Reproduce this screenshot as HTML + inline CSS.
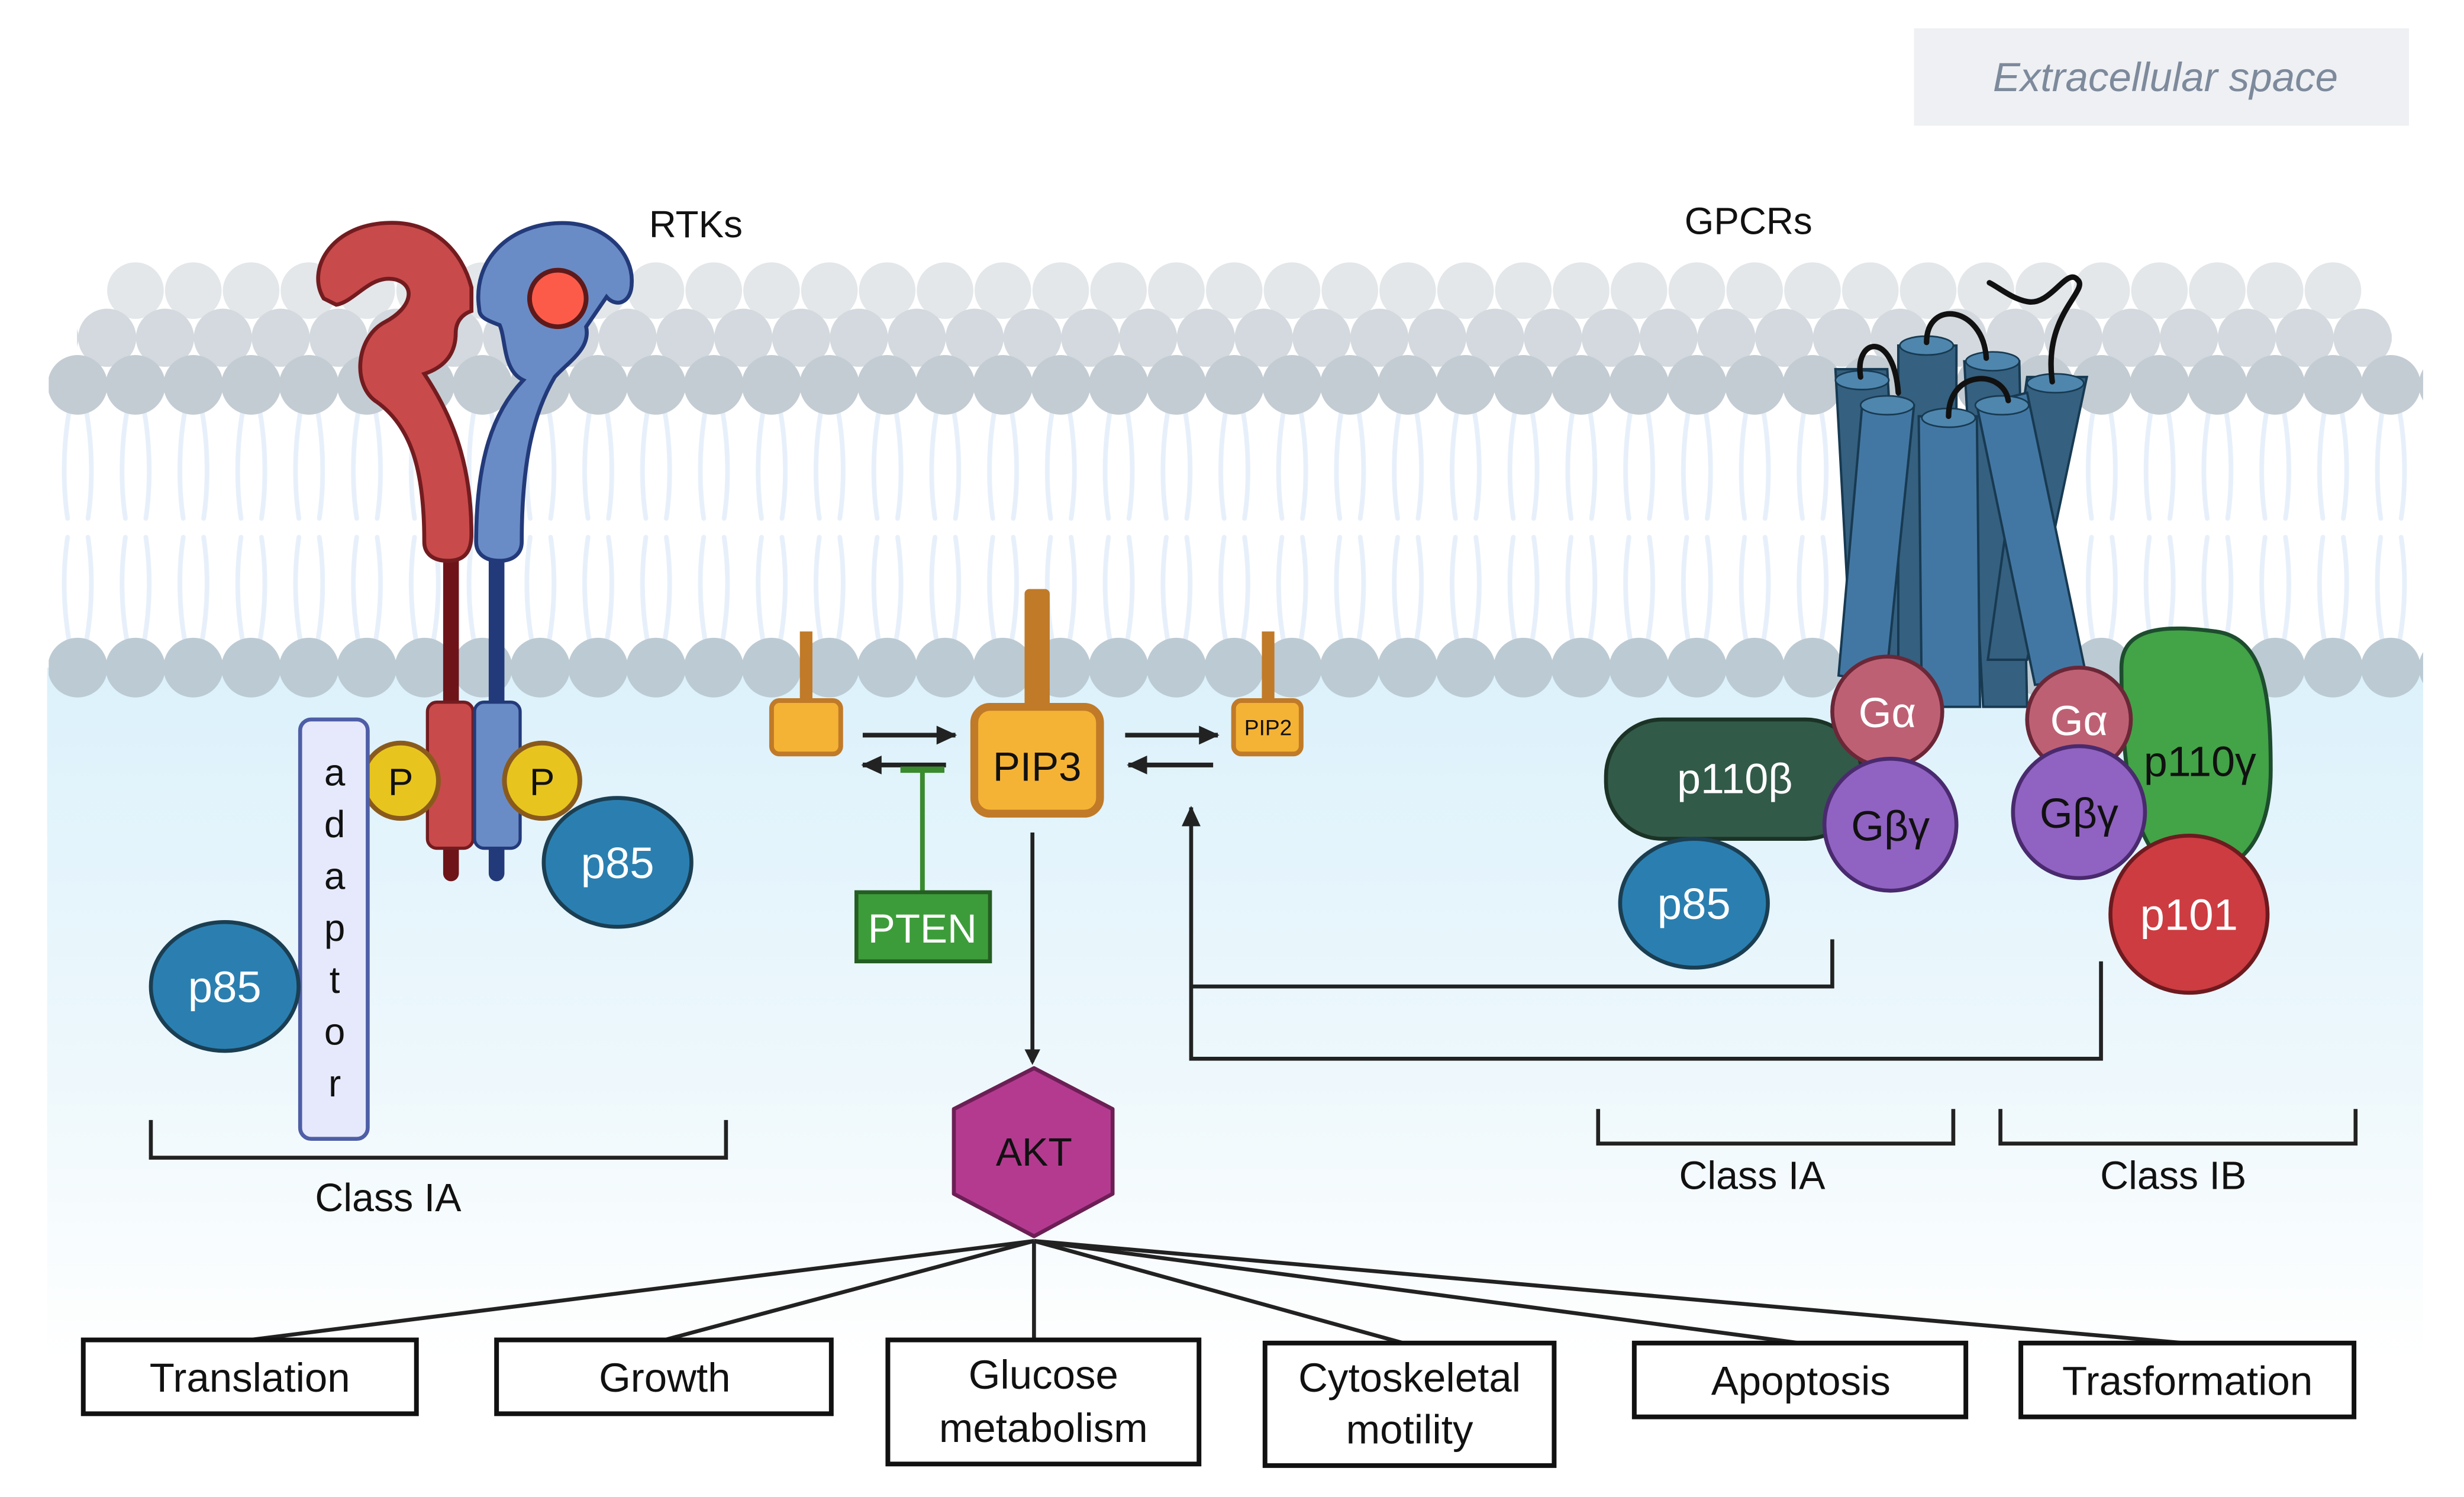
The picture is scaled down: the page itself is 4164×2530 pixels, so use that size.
<!DOCTYPE html>
<html><head><meta charset="utf-8"><style>
html,body{margin:0;padding:0;background:#fff;}
svg{display:block;}
text{font-family:"Liberation Sans",Arial,sans-serif;}
</style></head><body>
<svg width="4164" height="2530" viewBox="0 0 1568 953" preserveAspectRatio="none" xmlns="http://www.w3.org/2000/svg">
<defs>
<linearGradient id="cyto" x1="0" y1="0" x2="0" y2="1">
<stop offset="0" stop-color="#dcf1fb"/><stop offset="0.6" stop-color="#eef8fc"/><stop offset="1" stop-color="#ffffff"/>
</linearGradient>
<pattern id="h1" x="31" y="0" width="36.8" height="953" patternUnits="userSpaceOnUse"><circle cx="18.4" cy="185" r="18" fill="#e3e7ea"/></pattern>
<pattern id="h2" x="13" y="0" width="36.8" height="953" patternUnits="userSpaceOnUse"><circle cx="18.4" cy="215" r="18.5" fill="#d3d9de"/></pattern>
<pattern id="h3" x="31" y="0" width="36.8" height="953" patternUnits="userSpaceOnUse"><circle cx="18.4" cy="245" r="19" fill="#c3ccd3"/></pattern>
<pattern id="h4" x="31" y="0" width="36.8" height="953" patternUnits="userSpaceOnUse"><circle cx="18.4" cy="425" r="19" fill="#bccad3"/></pattern>
<pattern id="tl" x="31" y="0" width="36.8" height="953" patternUnits="userSpaceOnUse">
<path d="M13,262 C9,285 9,310 12,330 M24,262 C28,285 28,310 25,330 M12,342 C9,362 9,385 13,408 M25,342 C28,362 28,385 24,408" stroke="#e7f0fa" stroke-width="3" fill="none" stroke-linecap="round"/>
</pattern>
<marker id="ar" markerWidth="10" markerHeight="10" refX="8" refY="5" orient="auto" markerUnits="userSpaceOnUse"><path d="M0,0 L10,5 L0,10 Z" fill="#222"/></marker>
<marker id="ar2" markerWidth="14" markerHeight="14" refX="12" refY="7" orient="auto" markerUnits="userSpaceOnUse"><path d="M0,1 L13,7 L0,13 Z" fill="#222"/></marker>
</defs>
<rect x="30" y="425" width="1512" height="440" fill="url(#cyto)"/>
<rect x="68" y="160" width="1435" height="50" fill="url(#h1)"/>
<rect x="49" y="190" width="1473" height="50" fill="url(#h2)"/>
<rect x="31" y="260" width="1510" height="150" fill="url(#tl)"/>
<rect x="31" y="225" width="1511" height="40" fill="url(#h3)"/>
<rect x="31" y="405" width="1511" height="40" fill="url(#h4)"/>

<rect x="1218" y="18" width="315" height="62" fill="#eef0f3"/>
<text x="1378" y="58" font-size="26" font-style="italic" fill="#7d8a9c" text-anchor="middle">Extracellular space</text>
<text x="413" y="151" font-size="24" fill="#111">RTKs</text>
<text x="1072" y="149" font-size="24" fill="#111">GPCRs</text>

<line x1="287" y1="355" x2="287" y2="556" stroke="#6e1419" stroke-width="10" stroke-linecap="round"/>
<line x1="316" y1="355" x2="316" y2="556" stroke="#233a7a" stroke-width="10" stroke-linecap="round"/>
<path d="M206,190 C195,172 210,144 245,142 C276,140 294,160 300,183 L300,198 C294,200 290,205 290,212 C290,226 282,234 270,238 C286,262 300,292 300,340 C300,352 295,357 285,357 C275,357 270,352 270,345 C270,300 262,272 240,256 C224,246 226,215 245,205 C262,196 265,182 252,178 C236,174 226,192 214,194 Z" fill="#c94a4b" stroke="#731c20" stroke-width="2.5"/>
<path d="M305,197 C300,165 325,142 358,142 C386,142 403,162 402,180 C402,193 392,196 386,189 L373,208 C376,222 362,230 353,240 C340,262 332,292 332,345 C332,352 327,357 318,357 C308,357 303,352 303,345 C303,292 314,262 333,242 C320,236 322,216 318,207 C310,204 305,202 305,197 Z" fill="#6a8cc6" stroke="#233a7a" stroke-width="2.5"/>
<circle cx="355" cy="190" r="18" fill="#fd5b4a" stroke="#5e1a1a" stroke-width="3"/>
<rect x="272" y="447" width="29" height="93" rx="6" fill="#c94a4b" stroke="#731c20" stroke-width="2"/>
<rect x="302" y="447" width="29" height="93" rx="6" fill="#6a8cc6" stroke="#233a7a" stroke-width="2"/>
<circle cx="255" cy="497" r="24" fill="#e8c51e" stroke="#8a5a1c" stroke-width="3"/>
<text x="255" y="506" font-size="24" text-anchor="middle" fill="#111">P</text>
<circle cx="345" cy="497" r="24" fill="#e8c51e" stroke="#8a5a1c" stroke-width="3"/>
<text x="345" y="506" font-size="24" text-anchor="middle" fill="#111">P</text>
<ellipse cx="393" cy="549" rx="47" ry="41" fill="#2a7fb0" stroke="#1b3e52" stroke-width="2.5"/>
<text x="393" y="559" font-size="28" text-anchor="middle" fill="#fff">p85</text>
<rect x="191" y="458" width="43" height="267" rx="7" fill="#e6e9fb" stroke="#4e5ea6" stroke-width="2.5"/>
<g font-size="24" text-anchor="middle" fill="#111">
<text x="213" y="500">a</text><text x="213" y="533">d</text><text x="213" y="566">a</text><text x="213" y="599">p</text><text x="213" y="632">t</text><text x="213" y="665">o</text><text x="213" y="698">r</text>
</g>
<ellipse cx="143" cy="628" rx="47" ry="41" fill="#2a7fb0" stroke="#1b3e52" stroke-width="2.5"/>
<text x="143" y="638" font-size="28" text-anchor="middle" fill="#fff">p85</text>
<path d="M96,713 V737 H462 V713" fill="none" stroke="#222" stroke-width="2.5"/>
<text x="247" y="771" font-size="25" text-anchor="middle" fill="#111">Class IA</text>

<rect x="509" y="402" width="8" height="48" fill="#c07a28"/>
<rect x="491" y="446" width="44" height="34" rx="5" fill="#f5b335" stroke="#c07a28" stroke-width="3"/>
<rect x="652" y="375" width="16" height="80" rx="3" fill="#c07a28"/>
<rect x="620" y="450" width="80" height="68" rx="10" fill="#f5b335" stroke="#c07a28" stroke-width="5"/>
<text x="660" y="497" font-size="26" text-anchor="middle" fill="#111">PIP3</text>
<rect x="803" y="402" width="8" height="48" fill="#c07a28"/>
<rect x="785" y="446" width="43" height="34" rx="5" fill="#f5b335" stroke="#c07a28" stroke-width="3"/>
<text x="807" y="468" font-size="14" text-anchor="middle" fill="#111">PIP2</text>
<line x1="549" y1="468" x2="608" y2="468" stroke="#222" stroke-width="3" marker-end="url(#ar2)"/>
<line x1="602" y1="487" x2="549" y2="487" stroke="#222" stroke-width="3" marker-end="url(#ar2)"/>
<line x1="716" y1="468" x2="775" y2="468" stroke="#222" stroke-width="3" marker-end="url(#ar2)"/>
<line x1="772" y1="487" x2="718" y2="487" stroke="#222" stroke-width="3" marker-end="url(#ar2)"/>
<line x1="587" y1="490" x2="587" y2="568" stroke="#3a8a2e" stroke-width="3"/>
<line x1="573" y1="490" x2="601" y2="490" stroke="#3a8a2e" stroke-width="4"/>
<rect x="545" y="568" width="85" height="44" fill="#3d9c3a" stroke="#245e22" stroke-width="2.5"/>
<text x="587" y="600" font-size="26" text-anchor="middle" fill="#fff">PTEN</text>
<line x1="657" y1="530" x2="657" y2="676" stroke="#222" stroke-width="2.5" marker-end="url(#ar)"/>

<polygon points="658,680 708,706 708,760 658,787 607,760 607,706" fill="#b43a90" stroke="#6c1f55" stroke-width="2.5" stroke-linejoin="round"/>
<text x="658" y="742" font-size="25" text-anchor="middle" fill="#111">AKT</text>
<g stroke="#222" stroke-width="2.5">
<line x1="658" y1="790" x2="159" y2="853"/>
<line x1="658" y1="790" x2="423" y2="853"/>
<line x1="658" y1="790" x2="658" y2="853"/>
<line x1="658" y1="790" x2="893" y2="855"/>
<line x1="658" y1="790" x2="1145" y2="855"/>
<line x1="658" y1="790" x2="1390" y2="855"/>
</g>
<g fill="#fff" stroke="#111" stroke-width="3">
<rect x="53" y="853" width="212" height="47"/>
<rect x="316" y="853" width="213" height="47"/>
<rect x="565" y="853" width="198" height="79"/>
<rect x="805" y="855" width="184" height="78"/>
<rect x="1040" y="855" width="211" height="47"/>
<rect x="1286" y="855" width="212" height="47"/>
</g>
<g font-size="26" text-anchor="middle" fill="#111">
<text x="159" y="886">Translation</text>
<text x="423" y="886">Growth</text>
<text x="664" y="884">Glucose</text>
<text x="664" y="918">metabolism</text>
<text x="897" y="886">Cytoskeletal</text>
<text x="897" y="919">motility</text>
<text x="1146" y="888">Apoptosis</text>
<text x="1392" y="888">Trasformation</text>
</g>

<g stroke="#173a52" stroke-width="1.5">
<path d="M1168,235 L1180,455 L1213,455 L1201,235 Z" fill="#35607f"/>
<path d="M1208,220 L1208,430 L1245,430 L1245,220 Z" fill="#35607f"/>
<path d="M1250,230 L1262,450 L1290,450 L1285,230 Z" fill="#35607f"/>
<path d="M1290,240 L1265,420 L1290,420 L1328,240 Z" fill="#35607f"/>
<path d="M1185,258 L1170,430 L1200,435 L1218,258 Z" fill="#4377a3"/>
<path d="M1221,265 L1223,450 L1260,450 L1258,265 Z" fill="#4377a3"/>
<path d="M1258,258 L1295,436 L1328,432 L1290,250 Z" fill="#4377a3"/>
</g>
<g fill="#4f86ad" stroke="#173a52" stroke-width="1">
<ellipse cx="1185" cy="242" rx="17" ry="6"/><ellipse cx="1226" cy="220" rx="17" ry="6"/><ellipse cx="1268" cy="230" rx="17" ry="6"/><ellipse cx="1308" cy="244" rx="18" ry="6"/>
<ellipse cx="1201" cy="258" rx="17" ry="6"/><ellipse cx="1240" cy="266" rx="17" ry="6"/><ellipse cx="1274" cy="258" rx="17" ry="6"/>
</g>
<g fill="none" stroke="#111" stroke-width="3.5" stroke-linecap="round">
<path d="M1184,240 C1180,215 1205,210 1208,250"/>
<path d="M1226,218 C1226,190 1262,195 1264,228"/>
<path d="M1240,265 C1240,235 1275,235 1278,255"/>
<path d="M1306,243 C1300,200 1330,185 1322,178 C1315,170 1305,195 1290,192 C1280,190 1272,183 1266,180"/>
</g>
<rect x="1022" y="458" width="163" height="76" rx="36" fill="#325a48" stroke="#1b3326" stroke-width="2.5"/>
<text x="1104" y="505" font-size="27" text-anchor="middle" fill="#fff">p110β</text>
<circle cx="1201" cy="453" r="35" fill="#be6074" stroke="#6b2737" stroke-width="2.5"/>
<text x="1201" y="463" font-size="27" text-anchor="middle" fill="#fff">Gα</text>
<circle cx="1203" cy="525" r="42" fill="#9062c2" stroke="#4a2a6e" stroke-width="2.5"/>
<text x="1203" y="535" font-size="27" text-anchor="middle" fill="#111">Gβγ</text>
<ellipse cx="1078" cy="575" rx="47" ry="41" fill="#2a7fb0" stroke="#1b3e52" stroke-width="2.5"/>
<text x="1078" y="585" font-size="28" text-anchor="middle" fill="#fff">p85</text>
<path d="M1350,425 C1350,398 1380,398 1410,402 C1440,406 1445,440 1445,490 C1445,540 1420,560 1390,555 C1360,550 1350,500 1350,425 Z" fill="#43a347" stroke="#1d4d2e" stroke-width="2.5"/>
<text x="1400" y="494" font-size="27" text-anchor="middle" fill="#111">p110γ</text>
<circle cx="1323" cy="458" r="33" fill="#be6074" stroke="#6b2737" stroke-width="2.5"/>
<text x="1323" y="468" font-size="27" text-anchor="middle" fill="#fff">Gα</text>
<circle cx="1323" cy="517" r="42" fill="#9062c2" stroke="#4a2a6e" stroke-width="2.5"/>
<text x="1323" y="527" font-size="27" text-anchor="middle" fill="#111">Gβγ</text>
<circle cx="1393" cy="582" r="50" fill="#cc3c41" stroke="#6e1a1f" stroke-width="2.5"/>
<text x="1393" y="592" font-size="28" text-anchor="middle" fill="#fff">p101</text>

<path d="M1166,598 V628 H758" fill="none" stroke="#222" stroke-width="2.5"/>
<path d="M1337,612 V674 H758 V514" fill="none" stroke="#222" stroke-width="2.5" marker-end="url(#ar2)"/>
<path d="M1017,706 V728 H1243 V706" fill="none" stroke="#222" stroke-width="2.5"/>
<text x="1115" y="757" font-size="25" text-anchor="middle" fill="#111">Class IA</text>
<path d="M1273,706 V728 H1499 V706" fill="none" stroke="#222" stroke-width="2.5"/>
<text x="1383" y="757" font-size="25" text-anchor="middle" fill="#111">Class IB</text>
</svg>
</body></html>
